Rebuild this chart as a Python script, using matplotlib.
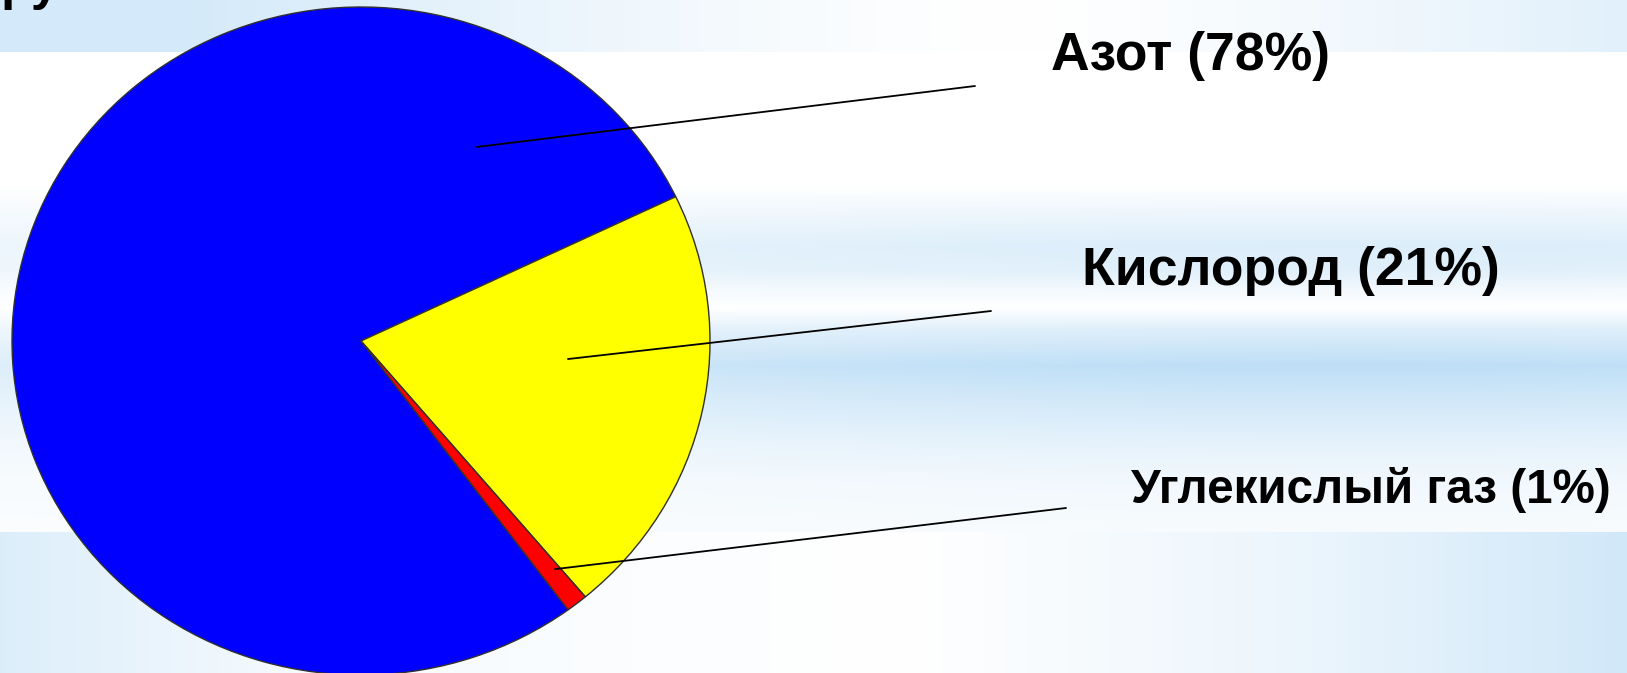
import numpy as np
import matplotlib
matplotlib.use("Agg")
import matplotlib.pyplot as plt

# --- data ---
gases = ["Азот", "Кислород", "Углекислый газ"]
shares = [78, 21, 1]
colors = ["#0000FF", "#FFFF00", "#FF0000"]

W, H = 1627, 673
plt.rcParams["font.family"] = ["Liberation Sans", "DejaVu Sans"]

fig = plt.figure(figsize=(W / 100, H / 100), dpi=100)

# --- background (light blue striped slide) ---
bg = fig.add_axes([0, 0, 1, 1])
yy, xx = np.mgrid[0:H, 0:W].astype(float)
amt = np.zeros((H, W))

# top band
top = yy < 52
xt = xx / W
top_prof = np.clip(np.abs(xt - 0.62) / 0.5, 0, 1) ** 1.3 * 0.55
amt[top] = top_prof[top]

# striped middle band
ys = [185, 215, 245, 270, 290, 307, 330, 365, 400, 440, 480, 532]
ps = [0.0, 0.25, 0.45, 0.4, 0.15, 0.0, 0.45, 0.85, 0.6, 0.35, 0.18, 0.1]
mid = (yy >= 185) & (yy < 532)
prof = np.interp(yy, ys, ps)
xmod = 0.75 + 0.25 * np.cos((xx - 1350) / 500)
amt[mid] = (prof * xmod)[mid]

# bottom band
bot = yy >= 532
bprof = np.interp(xx, [0, 300, 900, 1300, 1627], [0.45, 0.12, 0.0, 0.25, 0.6])
amt[bot] = bprof[bot]

blue = np.array([0.70, 0.85, 0.96])
img = 1 - amt[..., None] * (1 - blue)
bg.imshow(img, extent=[0, W, H, 0], aspect="auto", interpolation="bilinear")
bg.set_xlim(0, W)
bg.set_ylim(H, 0)
bg.axis("off")

# --- pie ---
cx, cy = 361, 341      # centre, pixels from top-left
rx, ry = 349, 334      # radii in pixels
ax = fig.add_axes([(cx - rx) / W, (H - cy - ry) / H, 2 * rx / W, 2 * ry / H])
ax.pie(shares, colors=colors, startangle=-53.6, counterclock=False,
       wedgeprops=dict(edgecolor="#303030", linewidth=1.0))
ax.set_aspect("auto")
ax.set_xlim(-1, 1)
ax.set_ylim(-1, 1)
ax.axis("off")

# leader lines: anchor inside wedge (pie coords) -> end point (figure pixels)
anchors = [(0.332, 0.581), (0.593, -0.054), (0.556, -0.683)]
ends = [(975, H - 86), (991, H - 311), (1066, H - 508)]
for a, e in zip(anchors, ends):
    ax.annotate("", xy=a, xycoords="data", xytext=e, textcoords="figure pixels",
                arrowprops=dict(arrowstyle="-", color="black", lw=1.3,
                                shrinkA=0, shrinkB=0),
                annotation_clip=False)

# labels
label_pos = [(1051, 56, 38.5), (1082, 271, 38.5), (1131, 490, 34.3)]
for g, s, (lx, ly, fs) in zip(gases, shares, label_pos):
    fig.text(lx / W, (H - ly) / H, f"{g} ({s}%)", fontsize=fs,
             fontweight="bold", ha="left", va="center", color="black")

# cut-off title remnant at the top-left corner (cropped in the original too)
fig.text(60 / W, (H + 1) / H, "ру", fontsize=37, fontweight="bold",
         ha="right", va="baseline", color="black")

fig.savefig("out.png", dpi=100)
